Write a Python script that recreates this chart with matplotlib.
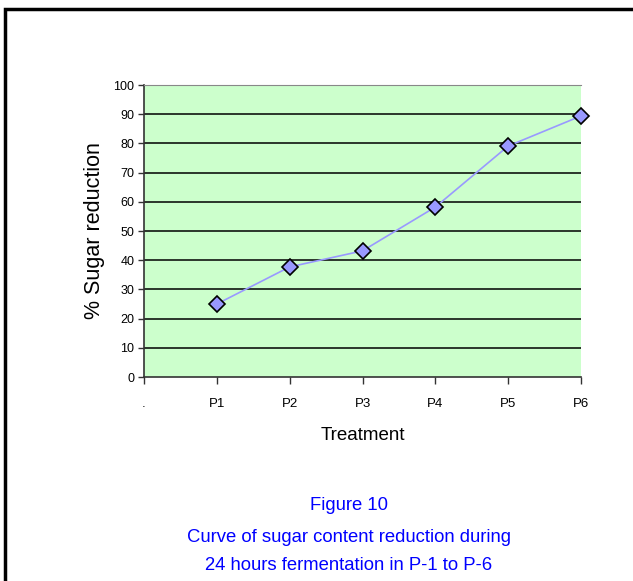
import matplotlib.pyplot as plt
from matplotlib.patches import Rectangle

categories = ['.', 'P1', 'P2', 'P3', 'P4', 'P5', 'P6']
treatments = ['P1', 'P2', 'P3', 'P4', 'P5', 'P6']
sugar_reduction = [25.0, 37.7, 43.2, 58.2, 79.1, 89.4]
y_ticks = [0, 10, 20, 30, 40, 50, 60, 70, 80, 90, 100]
caption = ['Figure 10',
           'Curve of sugar content reduction during',
           '24 hours fermentation in P-1 to P-6']

plt.rcParams['font.family'] = ['Liberation Sans', 'DejaVu Sans']

fig = plt.figure(figsize=(6.33, 5.81), dpi=100)
ax = fig.add_axes([144/633, 1-377/581, 437/633, 292/581])

# outer frame, open at right and bottom like the source
fig.patches.append(Rectangle((5/633, -0.1), 1.2, 1 - 9/581 + 0.1, transform=fig.transFigure,
                             fill=False, edgecolor='black', linewidth=2.5))

ax.set_facecolor('#CCFFCC')
for y in y_ticks[1:-1]:
    ax.axhline(y, color='black', linewidth=1.1, zorder=1)

xpos = [categories.index(t) for t in treatments]
ax.plot(xpos, sugar_reduction, color='#9999FF', linewidth=1.2, marker='D', markersize=8,
        markerfacecolor='#9999FF', markeredgecolor='black', markeredgewidth=1.2,
        zorder=3, clip_on=False)

ax.set_xlim(0, len(categories) - 1)
ax.set_ylim(0, 100)
ax.set_xticks(range(len(categories)))
ax.set_xticklabels(categories, fontsize=9.5)
ax.set_yticks(y_ticks)
ax.set_yticklabels([str(v) for v in y_ticks], fontsize=9)
ax.tick_params(axis='x', length=5, width=1, color='#333333', pad=10)
ax.tick_params(axis='y', length=4, width=1, color='#333333', pad=3)

ax.spines['right'].set_visible(False)
ax.spines['top'].set_color('#888888')
ax.spines['left'].set_color('#333333')
ax.spines['bottom'].set_color('#333333')
ax.spines['left'].set_linewidth(1.2)
ax.spines['bottom'].set_linewidth(1.2)

ax.set_xlabel('Treatment', fontsize=13.5, labelpad=12)
ax.set_ylabel('% Sugar reduction', fontsize=15.5, labelpad=6)

ys = [505, 538, 565]
for line, yp in zip(caption, ys):
    fig.text(349/633, 1 - yp/581, line, color='#0000FF', fontsize=13.3,
             ha='center', va='center')

fig.savefig('out.png', dpi=100)
